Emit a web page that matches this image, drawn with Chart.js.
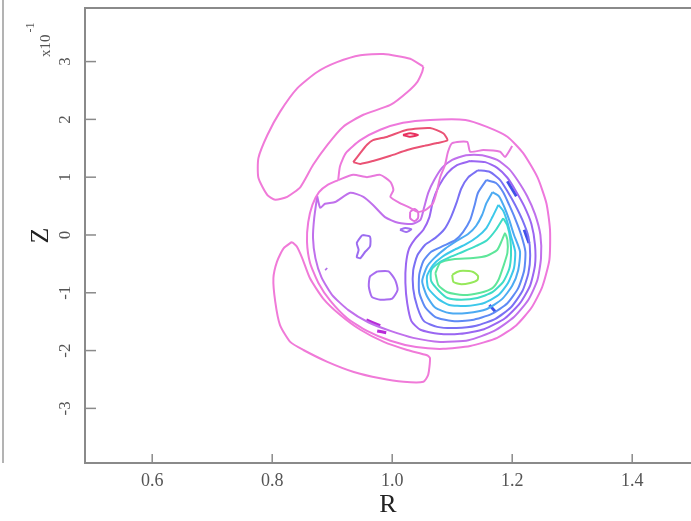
<!DOCTYPE html>
<html>
<head>
<meta charset="utf-8">
<script src="https://cdn.jsdelivr.net/npm/chart.js@4.4.1/dist/chart.umd.min.js"></script>
<style>
  html, body { margin: 0; padding: 0; background: #fff; }
  #wrap { width: 691px; height: 521px; }
</style>
</head>
<body>
<div id="wrap"><canvas id="graficoContorno" width="691" height="521"></canvas></div>
<script>
// axis ticks (Z is in units of 1e-1)
const xTicks = [0.6, 0.8, 1.0, 1.2, 1.4];
const yTicks = [-3, -2, -1, 0, 1, 2, 3];

// contour lines, [R, Z] pairs
const lobeTop = [[1.052,2.91],[1.030,3.05],[0.985,3.13],[0.947,3.11],[0.908,2.99],[0.875,2.82],[0.842,2.54],[0.813,2.13],[0.792,1.73],[0.777,1.33],[0.777,0.99],[0.792,0.69],[0.805,0.61],[0.825,0.66],[0.847,0.83],[0.868,1.21],[0.892,1.56],[0.918,1.87],[0.952,2.08],[0.997,2.25],[1.025,2.47],[1.042,2.65],[1.050,2.82]];
const lobeBottom = [[0.833,-0.12],[0.841,-0.20],[0.850,-0.40],[0.863,-0.75],[0.885,-1.10],[0.913,-1.38],[0.947,-1.64],[0.986,-1.85],[1.025,-1.99],[1.058,-2.08],[1.063,-2.13],[1.060,-2.42],[1.052,-2.54],[1.019,-2.54],[0.980,-2.48],[0.936,-2.37],[0.891,-2.19],[0.852,-1.99],[0.830,-1.85],[0.813,-1.56],[0.805,-1.15],[0.802,-0.75],[0.808,-0.46],[0.819,-0.23]];
const ringOuter = [[0.910,0.95],[0.913,1.19],[0.923,1.42],[0.947,1.64],[0.980,1.82],[1.018,1.94],[1.063,1.99],[1.122,1.99],[1.158,1.87],[1.192,1.70],[1.218,1.42],[1.242,1.00],[1.257,0.55],[1.263,0.09],[1.262,-0.43],[1.250,-0.90],[1.232,-1.26],[1.207,-1.56],[1.175,-1.78],[1.130,-1.92],[1.085,-1.97],[1.040,-1.94],[0.997,-1.83],[0.958,-1.66],[0.925,-1.44],[0.897,-1.14],[0.877,-0.83],[0.863,-0.48],[0.858,-0.12],[0.860,0.22],[0.867,0.52],[0.878,0.74],[0.893,0.87]];
const capEdge = [[0.910,0.95],[0.935,1.04],[0.958,1.00],[0.980,1.04],[0.997,0.92],[1.002,0.78],[0.997,0.66],[1.013,0.55],[1.030,0.47],[1.042,0.40],[1.055,0.43],[1.068,0.55],[1.075,0.78],[1.080,1.00],[1.088,1.21],[1.093,1.44],[1.100,1.59],[1.125,1.61],[1.130,1.44],[1.152,1.47],[1.180,1.44],[1.188,1.35],[1.200,1.54]];
const capLoop = [[1.030,0.40],[1.037,0.45],[1.043,0.40],[1.043,0.29],[1.037,0.24],[1.030,0.29]];
const redLoop = [[0.935,1.26],[0.947,1.42],[0.958,1.56],[0.968,1.64],[0.992,1.70],[1.025,1.82],[1.063,1.85],[1.085,1.76],[1.092,1.64],[1.075,1.59],[1.052,1.54],[1.025,1.47],[0.997,1.37],[0.968,1.28],[0.947,1.23]];
const redDash = [[1.018,1.73],[1.030,1.76],[1.043,1.73],[1.030,1.70]];
const violetRing = [[0.875,0.67],[0.880,0.47],[0.888,0.54],[0.905,0.57],[0.930,0.73],[0.952,0.66],[0.968,0.52],[0.988,0.31],[1.010,0.21],[1.033,0.19],[1.047,0.26],[1.053,0.47],[1.060,0.73],[1.070,0.95],[1.083,1.16],[1.100,1.30],[1.123,1.38],[1.150,1.38],[1.175,1.30],[1.195,1.14],[1.210,0.93],[1.225,0.67],[1.238,0.36],[1.247,0.00],[1.248,-0.40],[1.242,-0.78],[1.227,-1.12],[1.203,-1.42],[1.170,-1.66],[1.127,-1.82],[1.080,-1.85],[1.035,-1.78],[0.997,-1.66],[0.960,-1.51],[0.927,-1.30],[0.900,-1.04],[0.882,-0.73],[0.872,-0.40],[0.868,-0.05],[0.870,0.29]];
const purpleLevel = [[1.130,1.28],[1.155,1.26],[1.175,1.16],[1.192,0.99],[1.205,0.78],[1.220,0.50],[1.232,0.19],[1.238,-0.17],[1.238,-0.52],[1.230,-0.87],[1.213,-1.18],[1.188,-1.44],[1.153,-1.63],[1.113,-1.71],[1.077,-1.71],[1.047,-1.64],[1.032,-1.49],[1.025,-1.18],[1.022,-0.83],[1.023,-0.50],[1.028,-0.24],[1.038,-0.07],[1.052,0.09],[1.062,0.31],[1.068,0.59],[1.078,0.85],[1.092,1.07],[1.108,1.21]];
const indigoLevel = [[1.143,1.12],[1.163,1.09],[1.180,0.95],[1.193,0.74],[1.205,0.52],[1.217,0.26],[1.227,-0.03],[1.230,-0.35],[1.227,-0.66],[1.217,-0.97],[1.198,-1.25],[1.172,-1.45],[1.140,-1.57],[1.107,-1.61],[1.075,-1.59],[1.053,-1.49],[1.042,-1.25],[1.035,-0.93],[1.035,-0.61],[1.042,-0.35],[1.055,-0.17],[1.072,-0.05],[1.087,0.10],[1.098,0.31],[1.107,0.55],[1.115,0.80],[1.127,1.00]];
const blueLevel = [[1.157,0.95],[1.173,0.90],[1.185,0.74],[1.195,0.52],[1.205,0.28],[1.215,0.00],[1.222,-0.29],[1.220,-0.61],[1.210,-0.92],[1.192,-1.18],[1.165,-1.37],[1.133,-1.47],[1.100,-1.49],[1.072,-1.42],[1.055,-1.25],[1.045,-0.99],[1.045,-0.69],[1.052,-0.45],[1.065,-0.29],[1.085,-0.19],[1.105,-0.09],[1.118,0.05],[1.130,0.26],[1.137,0.50],[1.143,0.73]];
const skyLevel = [[1.167,0.74],[1.178,0.67],[1.187,0.48],[1.195,0.26],[1.203,0.00],[1.213,-0.29],[1.210,-0.61],[1.200,-0.88],[1.183,-1.11],[1.158,-1.28],[1.125,-1.35],[1.095,-1.35],[1.072,-1.26],[1.058,-1.06],[1.050,-0.80],[1.058,-0.55],[1.070,-0.40],[1.088,-0.24],[1.108,-0.10],[1.127,0.02],[1.140,0.16],[1.150,0.35],[1.157,0.55]];
const cyanLevel = [[1.177,0.52],[1.185,0.42],[1.192,0.22],[1.198,-0.02],[1.205,-0.29],[1.203,-0.57],[1.193,-0.83],[1.177,-1.04],[1.152,-1.18],[1.122,-1.23],[1.095,-1.21],[1.077,-1.11],[1.060,-0.92],[1.058,-0.71],[1.068,-0.52],[1.083,-0.38],[1.103,-0.26],[1.123,-0.16],[1.142,-0.03],[1.157,0.12],[1.167,0.31]];
const tealLevel = [[1.185,0.29],[1.192,0.16],[1.197,-0.09],[1.198,-0.35],[1.195,-0.59],[1.185,-0.81],[1.167,-0.99],[1.142,-1.09],[1.115,-1.12],[1.092,-1.09],[1.078,-0.97],[1.065,-0.80],[1.065,-0.61],[1.078,-0.48],[1.097,-0.38],[1.118,-0.29],[1.140,-0.19],[1.158,-0.09],[1.173,0.09]];
const greenLevel = [[1.072,-0.66],[1.080,-0.48],[1.102,-0.42],[1.135,-0.40],[1.158,-0.36],[1.175,-0.26],[1.183,-0.09],[1.188,0.03],[1.192,-0.09],[1.192,-0.31],[1.185,-0.55],[1.177,-0.78],[1.167,-0.92],[1.147,-1.00],[1.118,-1.04],[1.092,-0.99],[1.077,-0.87]];
const limeLevel = [[1.100,-0.69],[1.108,-0.64],[1.118,-0.62],[1.135,-0.64],[1.143,-0.71],[1.142,-0.78],[1.130,-0.83],[1.113,-0.85],[1.102,-0.81]];
const loopA = [[0.950,0.00],[0.963,-0.03],[0.963,-0.20],[0.955,-0.29],[0.947,-0.40],[0.941,-0.38],[0.944,-0.26],[0.941,-0.14]];
const loopB = [[0.975,-0.63],[0.994,-0.63],[1.005,-0.78],[1.009,-0.95],[1.000,-1.10],[0.980,-1.12],[0.966,-1.07],[0.961,-0.89],[0.963,-0.72]];
const smallOval = [[1.013,0.09],[1.022,0.12],[1.032,0.10],[1.023,0.05]];
const spotDot = [[0.889,-0.58],[0.891,-0.60]];
const markA = [[0.957,-1.47],[0.980,-1.57]];
const markB = [[0.975,-1.66],[0.990,-1.69]];
const markC = [[1.192,0.93],[1.207,0.67]];
const markD = [[1.220,0.09],[1.228,-0.14]];
const markE = [[1.162,-1.21],[1.172,-1.33]];

document.addEventListener('DOMContentLoaded', function() {
    const toPoints = function(pts, closed) {
        const out = pts.map(p => ({ x: p[0], y: p[1] }));
        if (closed) out.push({ x: pts[0][0], y: pts[0][1] });
        return out;
    };

    // line colour per contour level
    const lines = [
        { pts: lobeTop, color: '#f07ad8', closed: true },
        { pts: lobeBottom, color: '#f07ad8', closed: true },
        { pts: ringOuter, color: '#ee78dc', closed: true },
        { pts: capEdge, color: '#e878dc', closed: false },
        { pts: capLoop, color: '#e070e0', closed: true },
        { pts: redLoop, color: '#ea5274', closed: true },
        { pts: redDash, color: '#e8305e', closed: true },
        { pts: violetRing, color: '#c070ec', closed: true },
        { pts: purpleLevel, color: '#9a66f2', closed: true },
        { pts: indigoLevel, color: '#7a70f4', closed: true },
        { pts: blueLevel, color: '#5e8af4', closed: true },
        { pts: skyLevel, color: '#4caaf2', closed: true },
        { pts: cyanLevel, color: '#3cc8ea', closed: true },
        { pts: tealLevel, color: '#3edcc6', closed: true },
        { pts: greenLevel, color: '#5ee69a', closed: true },
        { pts: limeLevel, color: '#96e85a', closed: true },
        { pts: loopA, color: '#9c6cf0', closed: true },
        { pts: loopB, color: '#a86cf0', closed: true },
        { pts: smallOval, color: '#a070f0', closed: true },
        { pts: spotDot, color: '#b070e8', closed: false, width: 3 },
        { pts: markA, color: '#b82ad8', closed: false, width: 3 },
        { pts: markB, color: '#b82ad8', closed: false, width: 3 },
        { pts: markC, color: '#4050e8', closed: false, width: 3 },
        { pts: markD, color: '#4050e8', closed: false, width: 3 },
        { pts: markE, color: '#4050e8', closed: false, width: 3 }
    ];

    const framePlugin = {
        id: 'frame',
        afterDraw(chart) {
            const { ctx, chartArea: a } = chart;
            const xs = chart.scales.x, ys = chart.scales.y;
            const seg = function(x1, y1, x2, y2) {
                ctx.beginPath(); ctx.moveTo(x1, y1); ctx.lineTo(x2, y2); ctx.stroke();
            };
            ctx.save();
            ctx.strokeStyle = '#8a8a8a';
            ctx.lineWidth = 2;
            ctx.strokeRect(a.left, a.top, a.right - a.left + 6, a.bottom - a.top);
            ctx.lineWidth = 1.5;
            xTicks.forEach(v => { const px = xs.getPixelForValue(v); seg(px, a.bottom, px, a.bottom - 9); });
            yTicks.forEach(v => { const py = ys.getPixelForValue(v); seg(a.left, py, a.left + 11, py); });
            // stray page rule on the far left
            ctx.strokeStyle = '#9a9a9a';
            seg(3, 0, 3, a.bottom);
            // x10^-1 multiplier
            ctx.fillStyle = '#555';
            ctx.translate(46, 57);
            ctx.rotate(-Math.PI / 2);
            ctx.textAlign = 'left';
            ctx.textBaseline = 'middle';
            ctx.font = '15px "Liberation Serif"';
            ctx.fillText('x10', 0, 0);
            const w = ctx.measureText('x10').width;
            ctx.font = '12px "Liberation Serif"';
            ctx.fillText('-1', w + 2, -15);
            ctx.restore();
        }
    };

    const ctxContorno = document.getElementById('graficoContorno');
    new Chart(ctxContorno, {
        type: 'scatter',
        data: {
            datasets: lines.map(l => ({
                data: toPoints(l.pts, l.closed),
                borderColor: l.color,
                backgroundColor: l.color,
                borderWidth: l.width || 2,
                showLine: true,
                fill: false,
                pointRadius: 0,
                tension: 0.2
            }))
        },
        options: {
            responsive: false,
            animation: false,
            devicePixelRatio: 1,
            layout: { padding: { top: 8, right: 0, left: 0, bottom: 0 } },
            plugins: {
                legend: { display: false },
                tooltip: { enabled: false }
            },
            scales: {
                x: {
                    type: 'linear',
                    min: 0.488,
                    max: 1.498,
                    afterBuildTicks: s => { s.ticks = xTicks.map(v => ({ value: v })); },
                    afterFit: s => { s.height = 58; s.paddingLeft = 0; s.paddingRight = 0; },
                    grid: { display: false, drawTicks: false },
                    border: { display: false },
                    ticks: {
                        autoSkip: false,
                        maxRotation: 0,
                        padding: 7,
                        color: '#555',
                        font: { family: 'Liberation Serif', size: 18 },
                        callback: v => Number(v).toFixed(1)
                    },
                    title: {
                        display: true,
                        text: 'R',
                        color: '#222',
                        font: { family: 'Liberation Serif', size: 26 },
                        padding: { top: 0, bottom: 0 }
                    }
                },
                y: {
                    type: 'linear',
                    min: -3.945,
                    max: 3.927,
                    afterBuildTicks: s => { s.ticks = yTicks.map(v => ({ value: v })); },
                    afterFit: s => { s.width = 85; s.paddingTop = 0; s.paddingBottom = 0; },
                    grid: { display: false, drawTicks: false },
                    border: { display: false },
                    ticks: {
                        autoSkip: false,
                        minRotation: 90,
                        maxRotation: 90,
                        crossAlign: 'center',
                        padding: 12,
                        color: '#555',
                        font: { family: 'Liberation Serif', size: 17 },
                        callback: v => String(v)
                    },
                    title: {
                        display: true,
                        text: 'Z',
                        color: '#222',
                        font: { family: 'Liberation Serif', size: 26 },
                        padding: { top: 26, bottom: 0 }
                    }
                }
            }
        },
        plugins: [framePlugin]
    });
});
</script>
</body>
</html>
